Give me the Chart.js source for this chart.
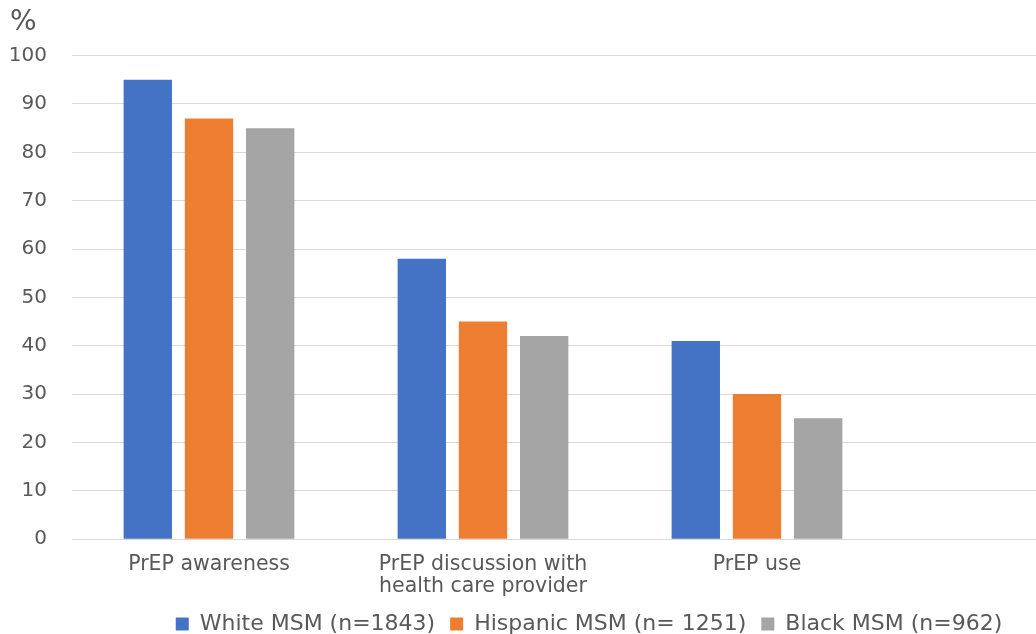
<!DOCTYPE html>
<html>
<head>
<meta charset="utf-8">
<script src="https://cdn.jsdelivr.net/npm/chart.js@4"></script>
<style>
  html, body { margin: 0; padding: 0; background: #fff; overflow: hidden; }
  #wrap { position: relative; width: 1190px; height: 645px; }
</style>
</head>
<body>
<div id="wrap"><canvas id="myChart"></canvas></div>
<script>
// the original picture is cut off on the right, a 4th (empty) slot keeps the spacing
const categories = ["PrEP awareness", ["PrEP discussion with", "health care provider"], "PrEP use", ""];
const seriesNames = ["White MSM (n=1843)", "Hispanic MSM (n= 1251)", "Black MSM (n=962)"];
const whiteMSM = [95, 58, 41, null];
const hispanicMSM = [87, 45, 30, null];
const blackMSM = [85, 42, 25, null];
const colors = ['#4472C4', '#ED7D31', '#A5A5A5'];

document.addEventListener("DOMContentLoaded", function () {
    const textColor = '#595959';
    const fontFamily = "'DejaVu Sans', sans-serif";

    const data = {
        labels: categories,
        datasets: [whiteMSM, hispanicMSM, blackMSM].map(function (values, i) {
            return {
                label: seriesNames[i],
                data: values,
                backgroundColor: colors[i],
                borderWidth: 0,
                categoryPercentage: 0.67,
                barPercentage: 0.79
            };
        })
    };

    const config = {
        type: 'bar',
        data: data,
        options: {
            responsive: true,
            maintainAspectRatio: false,
            animation: false,
            layout: {
                padding: { left: 10, right: 22, top: 4, bottom: 0 }
            },
            scales: {
                x: {
                    grid: { display: false, drawTicks: false },
                    border: { display: false },
                    ticks: {
                        color: textColor,
                        font: { family: fontFamily, size: 20.5, lineHeight: 1.07 },
                        padding: 15,
                        maxRotation: 0
                    },
                    // chart.js counts the tick padding twice, drop the one under the labels
                    afterFit: function (scale) {
                        scale.height -= 15;
                    }
                },
                y: {
                    min: 0,
                    max: 100,
                    grid: {
                        color: '#d9d9d9',
                        drawTicks: false
                    },
                    border: { display: false },
                    ticks: {
                        stepSize: 10,
                        color: textColor,
                        font: { family: fontFamily, size: 20 },
                        padding: 25
                    },
                    afterFit: function (scale) {
                        scale.width = 62;
                    }
                }
            },
            plugins: {
                title: {
                    display: true,
                    text: '%',
                    align: 'start',
                    color: textColor,
                    font: { family: fontFamily, size: 28, weight: 'normal' },
                    padding: { top: 2, bottom: 16 }
                },
                legend: {
                    position: 'bottom',
                    labels: {
                        color: textColor,
                        font: { family: fontFamily, size: 22, lineHeight: 1.0 },
                        boxWidth: 13,
                        boxHeight: 13,
                        padding: 15
                    }
                },
                tooltip: { enabled: false }
            }
        }
    };

    new Chart(document.getElementById('myChart'), config);
});
</script>
</body>
</html>
